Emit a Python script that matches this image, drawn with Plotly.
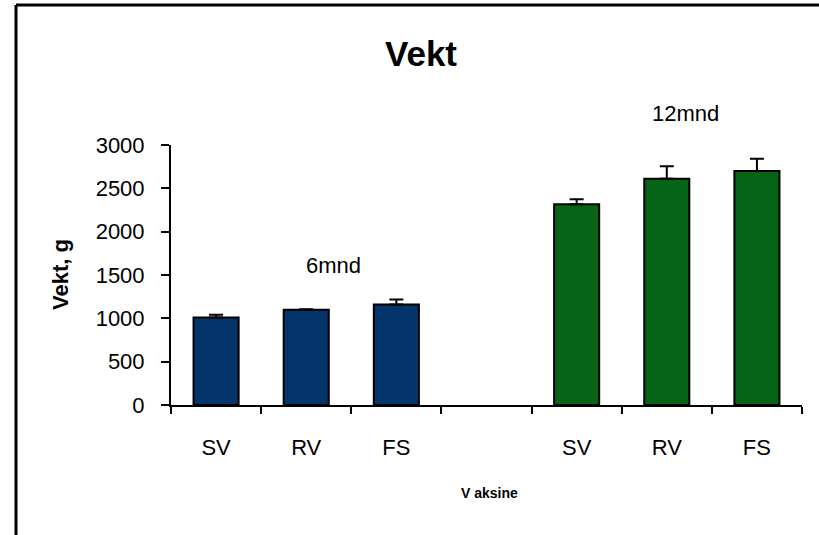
import plotly.graph_objects as go

categories = ["SV", "RV", "FS", " ", "SV ", "RV ", "FS "]
tick_labels = ["SV", "RV", "FS", "", "SV", "RV", "FS"]
cats_6 = ["SV", "RV", "FS"]
vals_6 = [1010, 1100, 1160]
err_6 = [30, 5, 57]
cats_12 = ["SV ", "RV ", "FS "]
vals_12 = [2315, 2610, 2700]
err_12 = [60, 145, 142]

FONT = "Liberation Sans, Arial, sans-serif"
W, H = 819, 535
L, R, T, B = 171, 802, 145, 405  # plot area pixel box
PW, PH = R - L, B - T


def px(x):
    return (x - L) / PW


def py(y):
    return (B - y) / PH


fig = go.Figure()
fig.add_trace(go.Bar(
    x=cats_6, y=vals_6, name="6mnd",
    marker=dict(color="#03356B", line=dict(color="black", width=2)),
    error_y=dict(type="data", array=err_6, arrayminus=[0] * len(err_6), symmetric=False,
                 color="black", thickness=2, width=7),
))
fig.add_trace(go.Bar(
    x=cats_12, y=vals_12, name="12mnd",
    marker=dict(color="#056416", line=dict(color="black", width=2)),
    error_y=dict(type="data", array=err_12, arrayminus=[0] * len(err_12), symmetric=False,
                 color="black", thickness=2, width=7),
))

fig.update_layout(
    width=W, height=H,
    margin=dict(l=L, r=W - R, t=T, b=H - B),
    paper_bgcolor="white", plot_bgcolor="white",
    showlegend=False,
    barmode="overlay",
    bargap=0.5,
    font=dict(family=FONT, color="black"),
    title=dict(text="<b>Vekt</b>", x=421 / W, xanchor="center", y=1 - 54 / H, yanchor="middle",
               font=dict(size=35, family=FONT, color="black")),
    xaxis=dict(
        type="category", categoryorder="array", categoryarray=categories,
        tickmode="array", tickvals=categories, ticktext=tick_labels,
        tickson="boundaries", ticks="outside", ticklen=7, tickwidth=2, tickcolor="black",
        showline=True, linecolor="black", linewidth=2,
        tickfont=dict(size=22, family=FONT), showgrid=False,
        ticklabelstandoff=22,
        range=[-0.5, 6.5],
    ),
    yaxis=dict(
        range=[0, 3000], tickvals=[0, 500, 1000, 1500, 2000, 2500, 3000],
        ticks="outside", ticklen=8, tickwidth=2, tickcolor="black",
        showline=True, linecolor="black", linewidth=2, showgrid=False, zeroline=False,
        tickfont=dict(size=22, family=FONT), ticklabelstandoff=12,
    ),
    annotations=[
        dict(text="6mnd", x=px(333), y=py(265), xref="paper", yref="paper", showarrow=False,
             xanchor="center", yanchor="middle", font=dict(size=22, family=FONT)),
        dict(text="12mnd", x=px(685), y=py(113), xref="paper", yref="paper", showarrow=False,
             xanchor="center", yanchor="middle", font=dict(size=22, family=FONT)),
        dict(text="<b>Vekt, g</b>", textangle=-90, x=px(60), y=0.5,
             xref="paper", yref="paper", showarrow=False,
             xanchor="center", yanchor="middle", font=dict(size=22, family=FONT)),
        dict(text="<b>V aksine</b>", x=px(490), y=py(493), xref="paper", yref="paper",
             xanchor="center", yanchor="middle",
             showarrow=False, font=dict(size=14, family=FONT)),
    ],
    shapes=[
        dict(type="line", xref="paper", yref="paper",
             x0=px(16), x1=px(16), y0=py(600), y1=py(5),
             line=dict(color="black", width=3)),
        dict(type="line", xref="paper", yref="paper",
             x0=px(16), x1=px(900), y0=py(5), y1=py(5),
             line=dict(color="black", width=3)),
    ],
)

fig.write_html("out.html", config={"displayModeBar": False},
               post_script="document.body.style.margin='0';")
